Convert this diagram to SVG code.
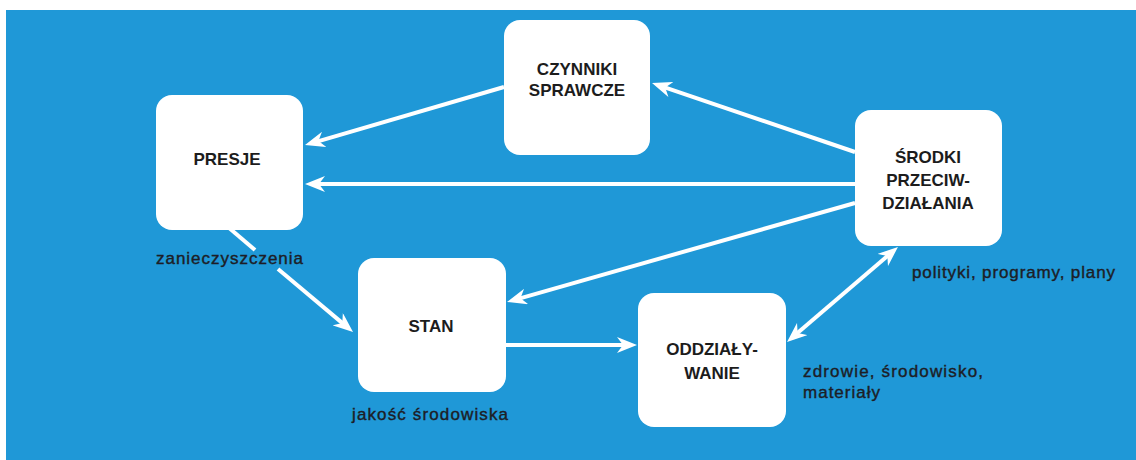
<svg xmlns="http://www.w3.org/2000/svg" width="1136" height="460" viewBox="0 0 1136 460">
  <style>
    .panel { fill: #1f98d7; }
    .box { fill: #ffffff; }
    .title { font-family: "Liberation Sans", Arial, sans-serif; font-size: 17px; font-weight: bold; fill: #1c1c1c; text-anchor: middle; }
    .note { font-family: "Liberation Sans", Arial, sans-serif; font-size: 17px; fill: #1d1d26; stroke: #1d1d26; stroke-width: 0.4; }
    .link { fill: none; stroke: #ffffff; stroke-width: 4; }
  </style>
  <defs>
    <!-- swept-back white arrowhead; tip sits 8px past the path end -->
    <marker id="head" viewBox="0 0 20 16" refX="12" refY="8" markerWidth="20" markerHeight="16" markerUnits="userSpaceOnUse" orient="auto-start-reverse">
      <path d="M0,0 L20,8 L0,16 L6,8 Z" fill="#ffffff"/>
    </marker>
  </defs>

  <rect width="1136" height="460" fill="#ffffff"/>
  <rect class="panel" x="6" y="10" width="1130" height="450"/>

  <g id="connectors">
    <!-- czynniki sprawcze -> presje -->
    <line class="link" x1="504" y1="87" x2="312.7" y2="142.8" marker-end="url(#head)"/>
    <!-- srodki -> presje -->
    <line class="link" x1="855" y1="184" x2="313" y2="184" marker-end="url(#head)"/>
    <!-- srodki -> czynniki sprawcze -->
    <line class="link" x1="855" y1="152" x2="659.6" y2="85.6" marker-end="url(#head)"/>
    <!-- srodki -> stan -->
    <line class="link" x1="855" y1="203" x2="514.7" y2="299.8" marker-end="url(#head)"/>
    <!-- presje -> stan, broken around its label -->
    <line class="link" x1="228" y1="227" x2="255" y2="250"/>
    <line class="link" x1="278" y1="269" x2="346.9" y2="326.9" marker-end="url(#head)"/>
    <!-- stan -> oddzialywanie -->
    <line class="link" x1="506" y1="345" x2="629" y2="345" marker-end="url(#head)"/>
    <!-- oddzialywanie <-> srodki -->
    <line class="link" x1="793.1" y1="336.8" x2="891.9" y2="252.2" marker-start="url(#head)" marker-end="url(#head)"/>
  </g>

  <g id="presje">
    <rect class="box" x="156" y="95" width="147" height="135" rx="16"/>
    <text class="title" x="227" y="165">PRESJE</text>
    <text class="note" x="156" y="264" textLength="147" lengthAdjust="spacing">zanieczyszczenia</text>
  </g>

  <g id="czynniki">
    <rect class="box" x="504" y="20" width="146" height="135" rx="16"/>
    <text class="title" x="577" y="75">CZYNNIKI</text>
    <text class="title" x="577" y="96">SPRAWCZE</text>
  </g>

  <g id="srodki">
    <rect class="box" x="855" y="110" width="147" height="136" rx="16"/>
    <text class="title" x="928" y="163">ŚRODKI</text>
    <text class="title" x="928" y="186">PRZECIW-</text>
    <text class="title" x="928" y="209">DZIAŁANIA</text>
    <text class="note" x="912" y="278" textLength="203" lengthAdjust="spacing">polityki, programy, plany</text>
  </g>

  <g id="stan">
    <rect class="box" x="358" y="258" width="148" height="134" rx="16"/>
    <text class="title" x="431" y="332">STAN</text>
    <text class="note" x="352" y="420" textLength="156" lengthAdjust="spacing">jakość środowiska</text>
  </g>

  <g id="oddzialywanie">
    <rect class="box" x="638" y="293" width="148" height="134" rx="16"/>
    <text class="title" x="712" y="355">ODDZIAŁY-</text>
    <text class="title" x="712" y="379">WANIE</text>
    <text class="note" x="803" y="377" textLength="180" lengthAdjust="spacing">zdrowie, środowisko,</text>
    <text class="note" x="803" y="398" textLength="77" lengthAdjust="spacing">materiały</text>
  </g>
</svg>
